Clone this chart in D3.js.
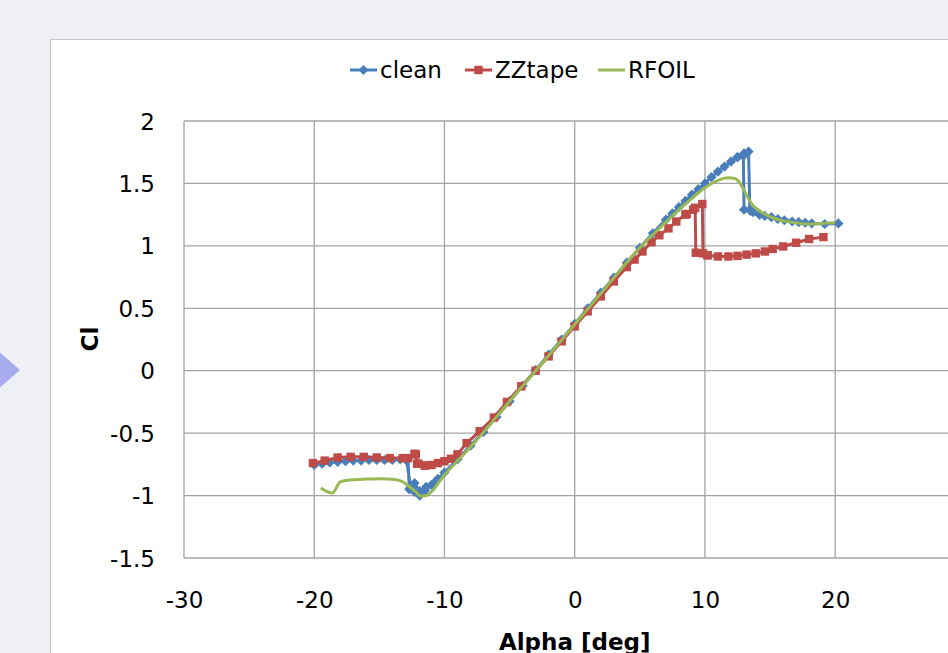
<!DOCTYPE html>
<html>
<head>
<meta charset="utf-8">
<script src="https://cdn.jsdelivr.net/npm/d3@7"></script>
<style>
  html, body { margin: 0; padding: 0; background: #eff0f6; overflow: hidden; }
  svg { display: block; }
  text { font-family: "DejaVu Sans", sans-serif; fill: #000; }
</style>
</head>
<body>
<svg id="chart" width="948" height="653"></svg>
<script>
// Lift coefficient vs angle of attack; null splits a series into separate runs.
const cleanAlpha = [-20, -19.4, -18.8, -18.2, -17.6, -17, -16.4, -15.8, -15.2, -14.6, -14, -13.4, -12.8,
  -12.7, -12.3, -11.9, -11.5, -11, -10.5, -10, -9, -8, -7, -6, -5, -4, -3, -2, -1, 0, 1, 2, 3, 4, 5, 6, 7,
  7.5, 8, 8.5, 9, 9.5, 10, 10.5, 11, 11.5, 12, 12.5, 13, 13.35,
  13.45, 13.7, 14.2, 14.6, 15.1, 15.6, 16.1, 16.7, 17.2, 17.7, 18.2, 19.2, 20.25,
  null, -10.8, -11.4, -11.9, -12.3, -12.6, -12.9,
  null, 14.2, 13.5, 13.0, 12.95, 12.5];
const cleanCl = [-0.755, -0.745, -0.735, -0.73, -0.725, -0.72, -0.72, -0.715, -0.715, -0.715, -0.715, -0.71, -0.705,
  -0.95, -0.97, -1.0, -0.96, -0.915, -0.865, -0.815, -0.71, -0.6, -0.49, -0.37, -0.245, -0.12, 0.005, 0.13, 0.25, 0.375, 0.5, 0.625, 0.745, 0.865, 0.985, 1.1, 1.21,
  1.26, 1.31, 1.36, 1.41, 1.455, 1.5, 1.55, 1.595, 1.635, 1.675, 1.71, 1.74, 1.755,
  1.29, 1.27, 1.25, 1.24, 1.23, 1.215, 1.205, 1.195, 1.19, 1.185, 1.18, 1.175, 1.18,
  null, -0.9, -0.93, -0.965, -0.9, -0.935, -0.72,
  null, 1.25, 1.28, 1.29, 1.72, 1.71];

const zzAlpha = [-20.1, -19.2, -18.2, -17.2, -16.2, -15.2, -14.2, -13.2, -12.3, -12.0, -11.5, -11.0, -10.5, -10.0, -9.5, -9.0,
  -8.3, -7.3, -6.2, -5.2, -4.1, -3.0, -2.0, -1.0, 0, 1, 2, 3, 4, 4.6, 5.2, 5.9, 6.5, 7.2, 7.8, 8.5, 9.1, 9.8,
  9.85, 10.2, 11.0, 11.8, 12.5, 13.2, 13.9, 14.6, 15.2, 16.0, 17.0, 18.0, 19.1,
  null, 10.2, 9.3, 9.25, 8.6,
  null, -11.5, -12.1, -12.2, -12.8];
const zzCl = [-0.74, -0.72, -0.695, -0.69, -0.69, -0.695, -0.7, -0.7, -0.665, -0.745, -0.76, -0.755, -0.74, -0.725, -0.705, -0.67,
  -0.58, -0.485, -0.375, -0.25, -0.125, 0.0, 0.115, 0.235, 0.355, 0.475, 0.595, 0.715, 0.83, 0.89, 0.955, 1.03, 1.085, 1.14, 1.195, 1.25, 1.29, 1.335,
  0.94, 0.925, 0.915, 0.915, 0.92, 0.93, 0.94, 0.955, 0.975, 0.995, 1.025, 1.055, 1.07,
  null, 0.925, 0.945, 1.305, 1.255,
  null, -0.76, -0.745, -0.67, -0.7];

const rfoilAlpha = [-19.5, -18.6, -18.0, -17.2, -16, -15, -14, -13.3, -12.8, -12.2, -11.8, -11.4, -10, -7.5, -5, -2.5, 0, 2.5, 5,
  7, 8, 9, 10, 11, 11.8, 12.3, 12.7, 13.0, 13.3, 13.6, 14.0, 14.5, 15.2, 16, 17, 18, 19, 20];
const rfoilCl = [-0.94, -0.98, -0.89, -0.875, -0.868, -0.865, -0.87, -0.885, -0.92, -0.97, -1.005, -1.0, -0.835, -0.552, -0.245, 0.06, 0.37, 0.68, 0.985,
  1.19, 1.29, 1.38, 1.465, 1.525, 1.545, 1.54, 1.5, 1.445, 1.385, 1.335, 1.295, 1.26, 1.225, 1.2, 1.185, 1.175, 1.18, 1.185];

const xTicks = [-30, -20, -10, 0, 10, 20, 30];
const yTicks = [-1.5, -1, -0.5, 0, 0.5, 1, 1.5, 2];
const seriesNames = ["clean", "ZZtape", "RFOIL"];
const seriesColors = ["#4a7ebb", "#be4b48", "#98b954"];

const svg = d3.select("#chart");

// decorative arrow at the left edge of the page
svg.append("path")
  .attr("d", "M-20,335 L20,370 L-20,405 Z")
  .attr("fill", "#a9abf0");

// chart panel
svg.append("rect")
  .attr("x", 50.5).attr("y", 39.5)
  .attr("width", 960).attr("height", 700)
  .attr("fill", "#fff").attr("stroke", "#c8c8cc").attr("stroke-width", 1);

const x = d3.scaleLinear().domain([-30, 30]).range([184, 965.4]);
const y = d3.scaleLinear().domain([-1.5, 2]).range([558, 121]);

// gridlines
const grid = svg.append("g").attr("stroke", "#a3a3a3").attr("stroke-width", 1.3);
grid.selectAll("line.h").data(yTicks).join("line")
  .attr("x1", x(-30)).attr("x2", x(30))
  .attr("y1", d => y(d)).attr("y2", d => y(d));
grid.selectAll("line.v").data(xTicks).join("line")
  .attr("x1", d => x(d)).attr("x2", d => x(d))
  .attr("y1", y(2)).attr("y2", y(-1.5));

// axes (labels only; gridlines above act as axis lines)
const fmt = d => String(d);
const yAxis = svg.append("g").attr("transform", `translate(${x(-30) - 29},0)`)
  .call(d3.axisLeft(y).tickValues(yTicks).tickSize(0).tickPadding(0).tickFormat(fmt));
const xAxis = svg.append("g").attr("transform", `translate(0,${y(-1.5) + 34})`)
  .call(d3.axisBottom(x).tickValues(xTicks).tickSize(0).tickPadding(0).tickFormat(fmt));
[yAxis, xAxis].forEach(a => {
  a.select(".domain").remove();
  a.selectAll("text").attr("font-size", 23).attr("font-family", "DejaVu Sans, sans-serif").attr("fill", "#000");
});
xAxis.selectAll("text").attr("dy", "0.71em");
yAxis.selectAll("text").attr("dy", "0.35em");

// axis titles
svg.append("text")
  .attr("transform", "translate(98,339) rotate(-90)")
  .attr("text-anchor", "middle").attr("font-weight", "bold").attr("font-size", 23)
  .text("Cl");
svg.append("text")
  .attr("x", x(0)).attr("y", 650)
  .attr("text-anchor", "middle").attr("font-weight", "bold").attr("font-size", 23)
  .text("Alpha [deg]");

function pairs(ax, cy) {
  return ax.map((a, i) => (a === null ? null : [a, cy[i]]));
}

const line = d3.line()
  .defined(d => d !== null)
  .x(d => x(d[0])).y(d => y(d[1]));

const clean = pairs(cleanAlpha, cleanCl);
const zz = pairs(zzAlpha, zzCl);
const rf = pairs(rfoilAlpha, rfoilCl);

const diamond = d3.symbol().type(d3.symbolDiamond2).size(66);
const square = d3.symbol().type(d3.symbolSquare2).size(90);

// clean
svg.append("path").datum(clean).attr("d", line)
  .attr("fill", "none").attr("stroke", seriesColors[0]).attr("stroke-width", 3).attr("stroke-linejoin", "round");
svg.append("g").selectAll("path").data(clean.filter(d => d)).join("path")
  .attr("d", diamond).attr("transform", d => `translate(${x(d[0])},${y(d[1])})`)
  .attr("fill", seriesColors[0]);

// ZZtape
svg.append("path").datum(zz).attr("d", line)
  .attr("fill", "none").attr("stroke", seriesColors[1]).attr("stroke-width", 3).attr("stroke-linejoin", "round");
svg.append("g").selectAll("path").data(zz.filter(d => d)).join("path")
  .attr("d", square).attr("transform", d => `translate(${x(d[0])},${y(d[1])})`)
  .attr("fill", seriesColors[1]);

// RFOIL
svg.append("path").datum(rf).attr("d", d3.line().curve(d3.curveMonotoneX).x(d => x(d[0])).y(d => y(d[1])))
  .attr("fill", "none").attr("stroke", seriesColors[2]).attr("stroke-width", 3).attr("stroke-linejoin", "round");

// legend
const legendItems = [
  { name: seriesNames[0], color: seriesColors[0], marker: diamond, x: 350 },
  { name: seriesNames[1], color: seriesColors[1], marker: square, x: 465 },
  { name: seriesNames[2], color: seriesColors[2], marker: null, x: 598 }
];
const lg = svg.append("g").attr("transform", "translate(0,70)");
legendItems.forEach(it => {
  const g = lg.append("g").attr("transform", `translate(${it.x},0)`);
  g.append("line").attr("x1", 0).attr("x2", 27).attr("y1", 0).attr("y2", 0)
    .attr("stroke", it.color).attr("stroke-width", 3);
  if (it.marker) {
    g.append("path").attr("d", it.marker).attr("transform", "translate(13.5,0)").attr("fill", it.color);
  }
  g.append("text").attr("x", 30).attr("y", 0).attr("dy", "0.35em")
    .attr("font-size", 23).text(it.name);
});
</script>
</body>
</html>
